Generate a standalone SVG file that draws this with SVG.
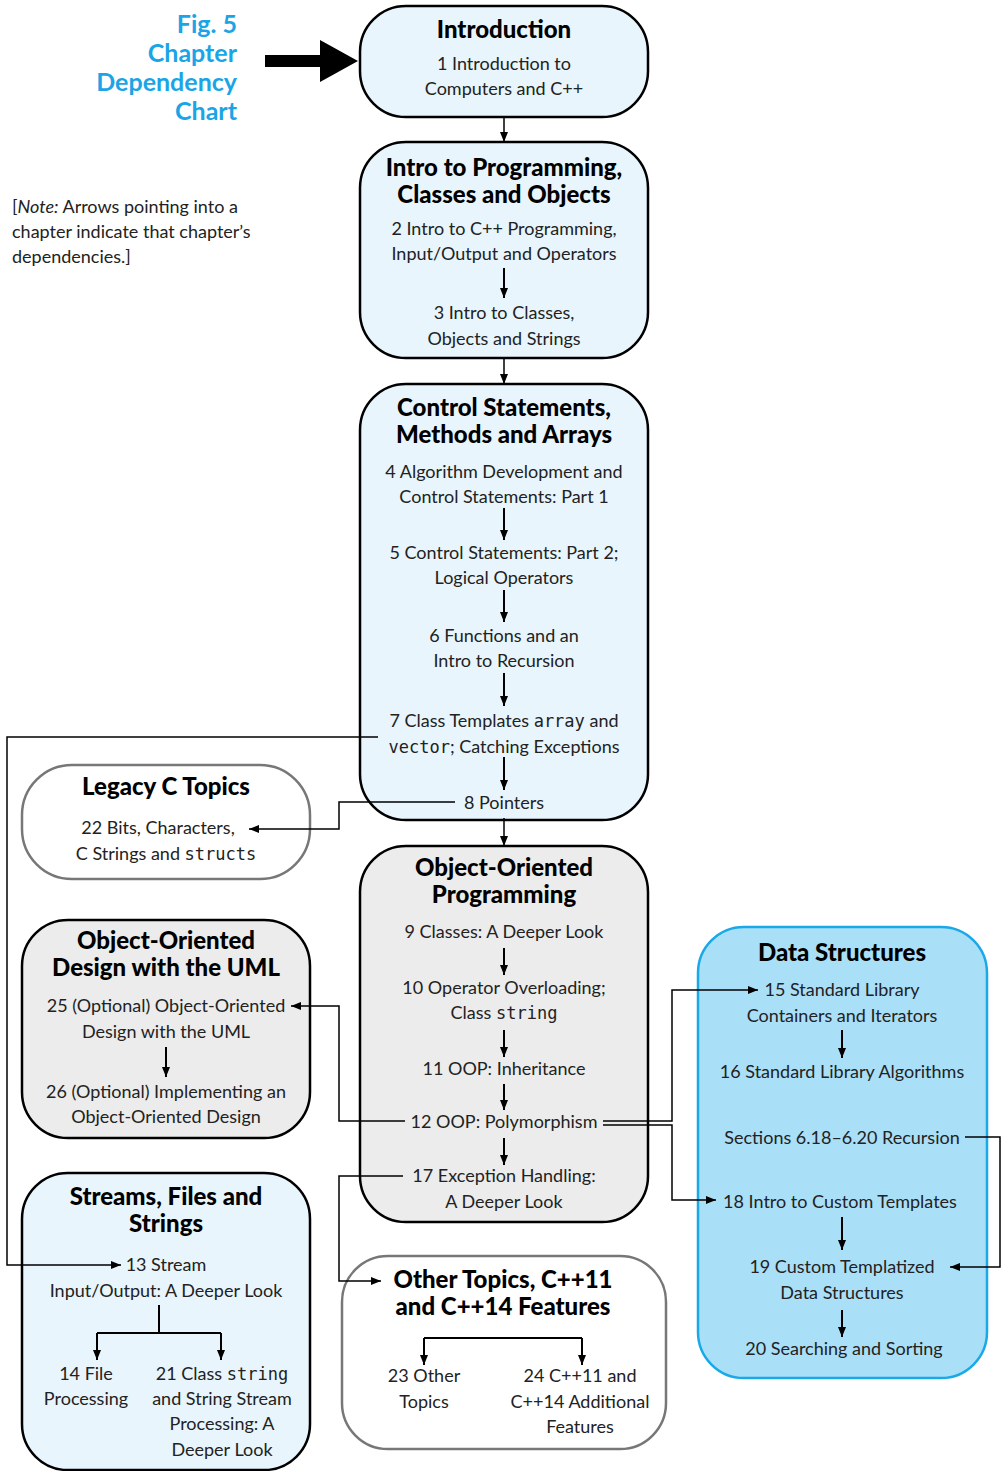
<svg xmlns="http://www.w3.org/2000/svg" width="1002" height="1471" viewBox="0 0 1002 1471">
<style>
.t{font-family:Lato,"Open Sans",sans-serif;font-size:18px;fill:#222;text-anchor:middle}
.h{font-family:Lato,"Open Sans",sans-serif;font-size:24px;font-weight:900;fill:#000;text-anchor:middle}
.m{font-family:"DejaVu Sans Mono",monospace;font-size:17px}
.fig{font-family:Lato,"Open Sans",sans-serif;font-size:25px;font-weight:bold;fill:#1aa5e6;text-anchor:end}
.note{font-family:Lato,"Open Sans",sans-serif;font-size:18px;fill:#222}
.bb{fill:#e8f5fc;stroke:#000;stroke-width:2.5}
.bg{fill:#ececec;stroke:#000;stroke-width:2.5}
.bw{fill:#fff;stroke:#777;stroke-width:2.5}
.bd{fill:#aadff8;stroke:#19a9e8;stroke-width:2.5}
.c{fill:none;stroke:#000;stroke-width:1.5}
.v{fill:none;stroke:#000;stroke-width:2}
</style>
<defs>
<marker id="a" viewBox="0 0 10 8" refX="10" refY="4" markerWidth="10" markerHeight="8" markerUnits="userSpaceOnUse" orient="auto"><path d="M0,0 L10,4 L0,8 Z" fill="#000"/></marker>
</defs>

<g id="title">
<text class="fig" x="237" y="33">Fig. 5</text>
<text class="fig" x="237" y="62">Chapter</text>
<text class="fig" x="237" y="91">Dependency</text>
<text class="fig" x="237" y="120">Chart</text>
<text class="note" x="12" y="213">[<tspan font-style="italic">Note:</tspan> Arrows pointing into a</text>
<text class="note" x="12" y="238">chapter indicate that chapter’s</text>
<text class="note" x="12" y="263">dependencies.]</text>
</g>

<g id="n-intro">
<rect class="bb" x="360" y="6" width="288" height="111" rx="46"/>
<text class="h" x="504" y="38">Introduction</text>
<text class="t" x="504" y="70">1 Introduction to</text>
<text class="t" x="504" y="95">Computers and C++</text>
</g>

<g id="n-prog">
<rect class="bb" x="360" y="142" width="288" height="216" rx="46"/>
<text class="h" x="504" y="176">Intro to Programming,</text>
<text class="h" x="504" y="203">Classes and Objects</text>
<text class="t" x="504" y="235">2 Intro to C++ Programming,</text>
<text class="t" x="504" y="260">Input/Output and Operators</text>
<text class="t" x="504" y="319">3 Intro to Classes,</text>
<text class="t" x="504" y="345">Objects and Strings</text>
</g>

<g id="n-control">
<rect class="bb" x="360" y="384" width="288" height="436" rx="46"/>
<text class="h" x="504" y="416">Control Statements,</text>
<text class="h" x="504" y="443">Methods and Arrays</text>
<text class="t" x="504" y="478">4 Algorithm Development and</text>
<text class="t" x="504" y="503">Control Statements: Part 1</text>
<text class="t" x="504" y="559">5 Control Statements: Part 2;</text>
<text class="t" x="504" y="584">Logical Operators</text>
<text class="t" x="504" y="642">6 Functions and an</text>
<text class="t" x="504" y="667">Intro to Recursion</text>
<text class="t" x="504" y="727">7 Class Templates <tspan class="m">array</tspan> and</text>
<text class="t" x="504" y="753"><tspan class="m">vector</tspan>; Catching Exceptions</text>
<text class="t" x="504" y="809">8 Pointers</text>
</g>

<g id="n-legacy">
<rect class="bw" x="22" y="765" width="288" height="114" rx="50"/>
<text class="h" x="166" y="795">Legacy C Topics</text>
<text class="t" x="158" y="834">22 Bits, Characters,</text>
<text class="t" x="166" y="860">C Strings and <tspan class="m">structs</tspan></text>
</g>

<g id="n-oop">
<rect class="bg" x="360" y="846" width="288" height="376" rx="46"/>
<text class="h" x="504" y="876">Object-Oriented</text>
<text class="h" x="504" y="903">Programming</text>
<text class="t" x="504" y="938">9 Classes: A Deeper Look</text>
<text class="t" x="504" y="994">10 Operator Overloading;</text>
<text class="t" x="504" y="1019">Class <tspan class="m">string</tspan></text>
<text class="t" x="504" y="1075">11 OOP: Inheritance</text>
<text class="t" x="504" y="1128">12 OOP: Polymorphism</text>
<text class="t" x="504" y="1182">17 Exception Handling:</text>
<text class="t" x="504" y="1208">A Deeper Look</text>
</g>

<g id="n-uml">
<rect class="bg" x="22" y="920" width="288" height="218" rx="46"/>
<text class="h" x="166" y="949">Object-Oriented</text>
<text class="h" x="166" y="976">Design with the UML</text>
<text class="t" x="166" y="1012">25 (Optional) Object-Oriented</text>
<text class="t" x="166" y="1038">Design with the UML</text>
<text class="t" x="166" y="1098">26 (Optional) Implementing an</text>
<text class="t" x="166" y="1123">Object-Oriented Design</text>
</g>

<g id="n-ds">
<rect class="bd" x="698" y="927" width="289" height="451" rx="46"/>
<text class="h" x="842" y="961">Data Structures</text>
<text class="t" x="842" y="996">15 Standard Library</text>
<text class="t" x="842" y="1022">Containers and Iterators</text>
<text class="t" x="842" y="1078">16 Standard Library Algorithms</text>
<text class="t" x="842" y="1144">Sections 6.18–6.20 Recursion</text>
<text class="t" x="840" y="1208">18 Intro to Custom Templates</text>
<text class="t" x="842" y="1273">19 Custom Templatized</text>
<text class="t" x="842" y="1299">Data Structures</text>
<text class="t" x="844" y="1355">20 Searching and Sorting</text>
</g>

<g id="n-streams">
<rect class="bb" x="22" y="1173" width="288" height="297" rx="46"/>
<text class="h" x="166" y="1205">Streams, Files and</text>
<text class="h" x="166" y="1232">Strings</text>
<text class="t" x="166" y="1271">13 Stream</text>
<text class="t" x="166" y="1297">Input/Output: A Deeper Look</text>
<text class="t" x="86" y="1380">14 File</text>
<text class="t" x="86" y="1405">Processing</text>
<text class="t" x="222" y="1380">21 Class <tspan class="m">string</tspan></text>
<text class="t" x="222" y="1405">and String Stream</text>
<text class="t" x="222" y="1430">Processing: A</text>
<text class="t" x="222" y="1456">Deeper Look</text>
</g>

<g id="n-other">
<rect class="bw" x="342" y="1256" width="324" height="193" rx="46"/>
<text class="h" x="503" y="1288">Other Topics, C++11</text>
<text class="h" x="503" y="1315">and C++14 Features</text>
<text class="t" x="424" y="1382">23 Other</text>
<text class="t" x="424" y="1408">Topics</text>
<text class="t" x="580" y="1382">24 C++11 and</text>
<text class="t" x="580" y="1408">C++14 Additional</text>
<text class="t" x="580" y="1433">Features</text>
</g>

<g id="connectors">
<path d="M265,61 H322" stroke="#000" stroke-width="12" fill="none"/>
<path d="M320,40 L358,61 L320,82 Z" fill="#000"/>
<path class="c" d="M504,117 V142" marker-end="url(#a)"/>
<path class="v" d="M504,268 V298" marker-end="url(#a)"/>
<path class="c" d="M504,358 V384" marker-end="url(#a)"/>
<path class="v" d="M504,508 V540" marker-end="url(#a)"/>
<path class="v" d="M504,590 V622" marker-end="url(#a)"/>
<path class="v" d="M504,673 V706" marker-end="url(#a)"/>
<path class="v" d="M504,757 V790" marker-end="url(#a)"/>
<path class="c" d="M504,818 V846" marker-end="url(#a)"/>
<path class="c" d="M378,737 H7 V1265 H121" marker-end="url(#a)"/>
<path class="c" d="M455,802 H339 V829 H249" marker-end="url(#a)"/>
<path class="v" d="M504,948 V975" marker-end="url(#a)"/>
<path class="v" d="M504,1030 V1057" marker-end="url(#a)"/>
<path class="v" d="M504,1084 V1110" marker-end="url(#a)"/>
<path class="v" d="M504,1138 V1165" marker-end="url(#a)"/>
<path class="c" d="M405,1121 H339 V1006 H291" marker-end="url(#a)"/>
<path class="v" d="M166,1047 V1077" marker-end="url(#a)"/>
<path class="c" d="M603,1121 H672 V990 H758" marker-end="url(#a)"/>
<path class="c" d="M603,1125 H672 V1200 H716" marker-end="url(#a)"/>
<path class="v" d="M842,1030 V1058" marker-end="url(#a)"/>
<path class="v" d="M842,1217 V1250" marker-end="url(#a)"/>
<path class="v" d="M842,1310 V1337" marker-end="url(#a)"/>
<path class="c" d="M965,1137 H1000 V1267 H950" marker-end="url(#a)"/>
<path class="c" d="M403,1176 H339 V1281 H381" marker-end="url(#a)"/>
<path class="v" d="M159,1305 V1333"/>
<path class="v" d="M97,1333 H221"/>
<path class="v" d="M97,1333 V1360" marker-end="url(#a)"/>
<path class="v" d="M221,1333 V1360" marker-end="url(#a)"/>
<path class="v" d="M424,1338 H582"/>
<path class="v" d="M424,1338 V1365" marker-end="url(#a)"/>
<path class="v" d="M582,1338 V1365" marker-end="url(#a)"/>
</g>
</svg>
